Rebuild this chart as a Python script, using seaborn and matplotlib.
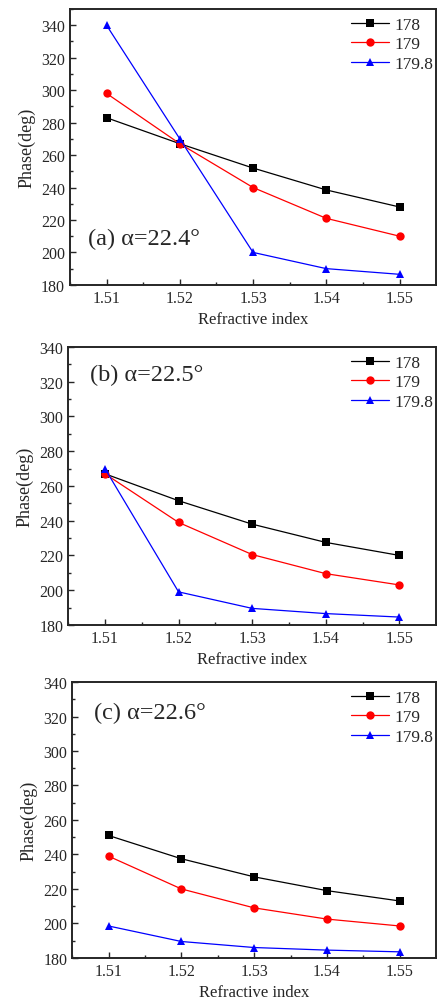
import pandas as pd
import seaborn as sns
import matplotlib.pyplot as plt
from matplotlib.ticker import MultipleLocator

# refractive index on x, phase (deg) on y
n_index = [1.51, 1.52, 1.53, 1.54, 1.55]
series_names = ['178', '179', '179.8']
panel_labels = ['(a) \u03b1=22.4\u00b0', '(b) \u03b1=22.5\u00b0', '(c) \u03b1=22.6\u00b0']

phase_a_178 = [283, 267, 252, 238.5, 228]
phase_a_179 = [298, 267, 240, 221, 210]
phase_a_1798 = [340, 270, 200, 190, 186.5]

phase_b_178 = [267, 251.5, 238, 227.5, 220]
phase_b_179 = [267, 239, 220.5, 209.5, 203]
phase_b_1798 = [270, 199, 189.5, 186.5, 184.5]

phase_c_178 = [251, 237.5, 227, 219, 213]
phase_c_179 = [239, 220, 209, 202.5, 198.5]
phase_c_1798 = [198.5, 189.5, 186, 184.5, 183.5]

panels = [
    [phase_a_178, phase_a_179, phase_a_1798],
    [phase_b_178, phase_b_179, phase_b_1798],
    [phase_c_178, phase_c_179, phase_c_1798],
]

sns.set_style('ticks')
plt.rcParams['font.family'] = ['Liberation Serif', 'DejaVu Serif']

palette = {'178': 'black', '179': 'red', '179.8': 'blue'}
markers = {'178': 's', '179': 'o', '179.8': '^'}
dashes = {'178': '', '179': '', '179.8': ''}

fig = plt.figure(figsize=(4.37, 10.03), dpi=100)
boxes = [
    [0.160, 0.715, 0.838, 0.275],
    [0.156, 0.376, 0.842, 0.277],
    [0.165, 0.044, 0.833, 0.275],
]
ylims = [(180, 350), (180, 340), (180, 340)]
label_pos = [(0.05, 0.167), (0.06, 0.90), (0.06, 0.89)]

for i, values in enumerate(panels):
    rows = []
    for name, ys in zip(series_names, values):
        for x, y in zip(n_index, ys):
            rows.append({'n': x, 'phase': y, 'series': name})
    df = pd.DataFrame(rows)

    ax = fig.add_axes(boxes[i])
    sns.lineplot(data=df, x='n', y='phase', hue='series', style='series',
                 palette=palette, markers=markers, dashes=dashes,
                 markersize=6, linewidth=0.9, markeredgewidth=0, ax=ax)

    ax.set_xlim(1.505, 1.555)
    ax.set_ylim(*ylims[i])
    ax.set_xticks(n_index)
    ax.set_xticklabels([f'{v:.2f}' for v in n_index])
    ax.set_yticks(range(180, 341, 20))
    ax.xaxis.set_minor_locator(MultipleLocator(0.005))
    ax.yaxis.set_minor_locator(MultipleLocator(10))
    ax.tick_params(which='both', direction='in', top=False, right=False,
                   labelsize=11.5, width=1)
    ax.tick_params(which='major', length=4)
    ax.tick_params(which='minor', length=2.5)
    for sp in ax.spines.values():
        sp.set_linewidth(1.4)

    ax.set_xlabel('Refractive index', fontsize=12, labelpad=4)
    ax.set_ylabel('Phase(deg)', fontsize=13, labelpad=4)

    ax.text(label_pos[i][0], label_pos[i][1], panel_labels[i],
            transform=ax.transAxes, fontsize=17.5, va='center', ha='left')

    leg = ax.legend(loc='upper right', bbox_to_anchor=(1.02, 1.01),
                    frameon=False, fontsize=12.5, handlelength=2.2,
                    handletextpad=0.3, labelspacing=0.2, borderaxespad=0.2)

fig.savefig('out.png', dpi=100)
